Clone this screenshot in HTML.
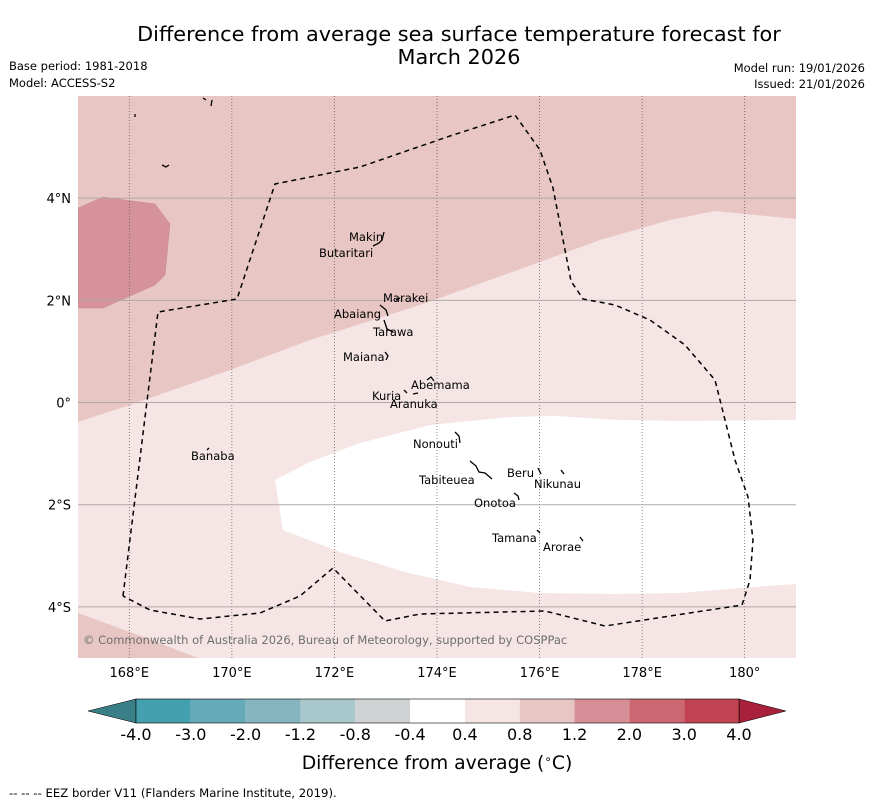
<!DOCTYPE html>
<html><head><meta charset="utf-8"><style>
body{margin:0;background:#fff;}
svg{display:block;font-family:"DejaVu Sans","Liberation Sans",sans-serif;}
</style></head><body>
<svg width="873" height="804" viewBox="0 0 873 804">
<text x="459" y="41" font-size="20.8" text-anchor="middle">Difference from average sea surface temperature forecast for</text>
<text x="459" y="64" font-size="20.8" text-anchor="middle">March 2026</text>
<text x="9" y="70" font-size="11.5">Base period: 1981-2018</text>
<text x="9" y="87" font-size="11.5">Model: ACCESS-S2</text>
<text x="865" y="72" font-size="11.5" text-anchor="end">Model run: 19/01/2026</text>
<text x="865" y="88" font-size="11.5" text-anchor="end">Issued: 21/01/2026</text>
<defs><clipPath id="mc"><rect x="78" y="96" width="718" height="562"/></clipPath></defs>
<g id="map" clip-path="url(#mc)">
<rect x="78" y="96" width="718" height="562" fill="#f5e6e5"/>
<polygon points="78,96 796,96 796,219 715,211 670,220 600,240 540,262 420,305 310,340 230,370 130,405 78,422" fill="#e8c6c3"/>
<polygon points="78,208 103,197 155,204 170,224 165,275 155,285 103,308 78,308" fill="#d6929a" stroke="#c98a90" stroke-width="0.5"/>
<polygon points="275,480 310,462 360,443 430,425 510,417 555,416 620,420 680,421 796,420 796,584 740,588 680,593 615,594 540,593 470,587 405,572 340,552 283,530" fill="#fff"/>
<polygon points="78,613 130,632 198,658 78,658" fill="#e8c6c3"/>
<g id="grid"></g>
<polyline points="123,596 158,312 237,299 275,184 360,167 450,136 515,115 540,150 553,188 571,281 583,299 615,305 650,320 685,345 715,380 735,460 748,497 753,540 750,580 742,605 605,626 545,611 420,614 385,621 333,568 300,596 260,613 200,619 150,610 123,596" fill="none" stroke="#000" stroke-width="1.5" stroke-dasharray="5,4"/>
<g fill="none" stroke="#000" stroke-width="1.3">
<path d="M373,246 l6,-3 l3,-3 l2,-8"/><path d="M396,300 l4,-2"/><path d="M380,305 l6,5 l2,6"/><path d="M384,320 l3,9 l6,3"/><path d="M385,352 l3,4 l-2,4"/>
<path d="M427,380 l4,-3 l3,4"/><path d="M404,390 l3,3"/><path d="M413,394 l5,-1"/><path d="M455,432 l4,4 l1,7"/>
<path d="M470,461 l6,5 l3,6 l6,1 l7,6"/><path d="M538,468 l3,6"/><path d="M561,470 l3,4"/><path d="M514,493 l4,3 l1,4"/><path d="M537,530 l3,3"/><path d="M580,537 l3,4"/>
<path d="M207,450 l2,-2"/><path d="M135,114 v3"/><path d="M162,165 l4,2 l3,-2"/><path d="M203,98 l3,2"/><path d="M212,100 l-1,6"/>
</g>
<g font-size="11.5" fill="#000">
<text x="349" y="241">Makin</text><text x="319" y="257">Butaritari</text><text x="383" y="302">Marakei</text><text x="334" y="318">Abaiang</text><text x="373" y="336">Tarawa</text><text x="343" y="361">Maiana</text><text x="411" y="389">Abemama</text><text x="372" y="400">Kuria</text><text x="390" y="408">Aranuka</text><text x="413" y="448">Nonouti</text><text x="507" y="477">Beru</text><text x="534" y="488">Nikunau</text><text x="419" y="484">Tabiteuea</text><text x="474" y="507">Onotoa</text><text x="492" y="542">Tamana</text><text x="543" y="551">Arorae</text><text x="191" y="460">Banaba</text>
</g>
<text x="83" y="644" font-size="11.5" fill="#6e6e6e">© Commonwealth of Australia 2026, Bureau of Meteorology, supported by COSPPac</text>
</g>
<g id="axes"></g>
<g id="cbar"></g>
<text x="437" y="769" font-size="18.8" text-anchor="middle">Difference from average (<tspan font-size="12" dy="-6">∘</tspan><tspan dy="6">C)</tspan></text>
<text x="9" y="797" font-size="11.7">--  --  -- EEZ border V11 (Flanders Marine Institute, 2019).</text>
</svg>
<script>
const NS="http://www.w3.org/2000/svg";
const lonTicks=[168,170,172,174,176,178,180];
const lonLabels=["168°E","170°E","172°E","174°E","176°E","178°E","180°"];
const latTicks=[4,2,0,-2,-4];
const latLabels=["4°N","2°N","0°","2°S","4°S"];
const cbBounds=["-4.0","-3.0","-2.0","-1.2","-0.8","-0.4","0.4","0.8","1.2","2.0","3.0","4.0"];
const cbColors=["#449fae","#66aab8","#86b5c0","#a8c8cc","#d0d3d3","#ffffff","#f5e6e5","#e8c6c3","#d68f96","#cc6872","#c04452"];
const lonMin=167,lonMax=181,latMin=-5,latMax=6,X0=78,X1=796,Y0=96,Y1=658;
const xs=l=>X0+(l-lonMin)/(lonMax-lonMin)*(X1-X0);
const ys=l=>Y0+(latMax-l)/(latMax-latMin)*(Y1-Y0);
function mk(t,a,p){const e=document.createElementNS(NS,t);for(const k in a)e.setAttribute(k,a[k]);p.appendChild(e);return e;}
const grid=document.getElementById('grid'),axes=document.getElementById('axes'),cb=document.getElementById('cbar');
lonTicks.forEach((l,i)=>{
 const ln=mk('line',{x1:xs(l),x2:xs(l),y1:Y0,y2:Y1,stroke:'#555','stroke-width':0.7,'stroke-dasharray':'1,2'},grid);
 
 
 const t=mk('text',{x:xs(l),y:677,'font-size':13,'text-anchor':'middle'},axes);t.textContent=lonLabels[i];
 
 
});
latTicks.forEach((l,i)=>{
 const ln=mk('line',{x1:X0,x2:X1,y1:ys(l),y2:ys(l),stroke:'#b0a8a8','stroke-width':1},grid);
 
 
 const t=mk('text',{x:71,y:ys(l)+5,'font-size':13,'text-anchor':'end'},axes);t.textContent=latLabels[i];
 
 
});
const CB0=136,CB1=739,CBY=699,CBH=24,n=cbColors.length,w=(CB1-CB0)/n;
const la=mk('polygon',{points:`${CB0},${CBY} ${CB0},${CBY+CBH} 88,${CBY+CBH/2}`,fill:'#3a7f88',stroke:'#000','stroke-width':0.6},cb);


const ra=mk('polygon',{points:`${CB1},${CBY} ${CB1},${CBY+CBH} 786,${CBY+CBH/2}`,fill:'#a8203a',stroke:'#000','stroke-width':0.6},cb);


cbColors.forEach((c,i)=>{
 const r=mk('rect',{x:CB0+i*w,y:CBY,width:w,height:CBH,fill:c},cb);
 
 
});
mk('rect',{x:CB0,y:CBY,width:CB1-CB0,height:CBH,fill:'none',stroke:'#000','stroke-width':0.6},cb);
cbBounds.forEach((b,i)=>{
 const t=mk('text',{x:CB0+i*w,y:740,'font-size':16,'text-anchor':'middle'},cb);t.textContent=b;
 
 
});
</script>
</body></html>
